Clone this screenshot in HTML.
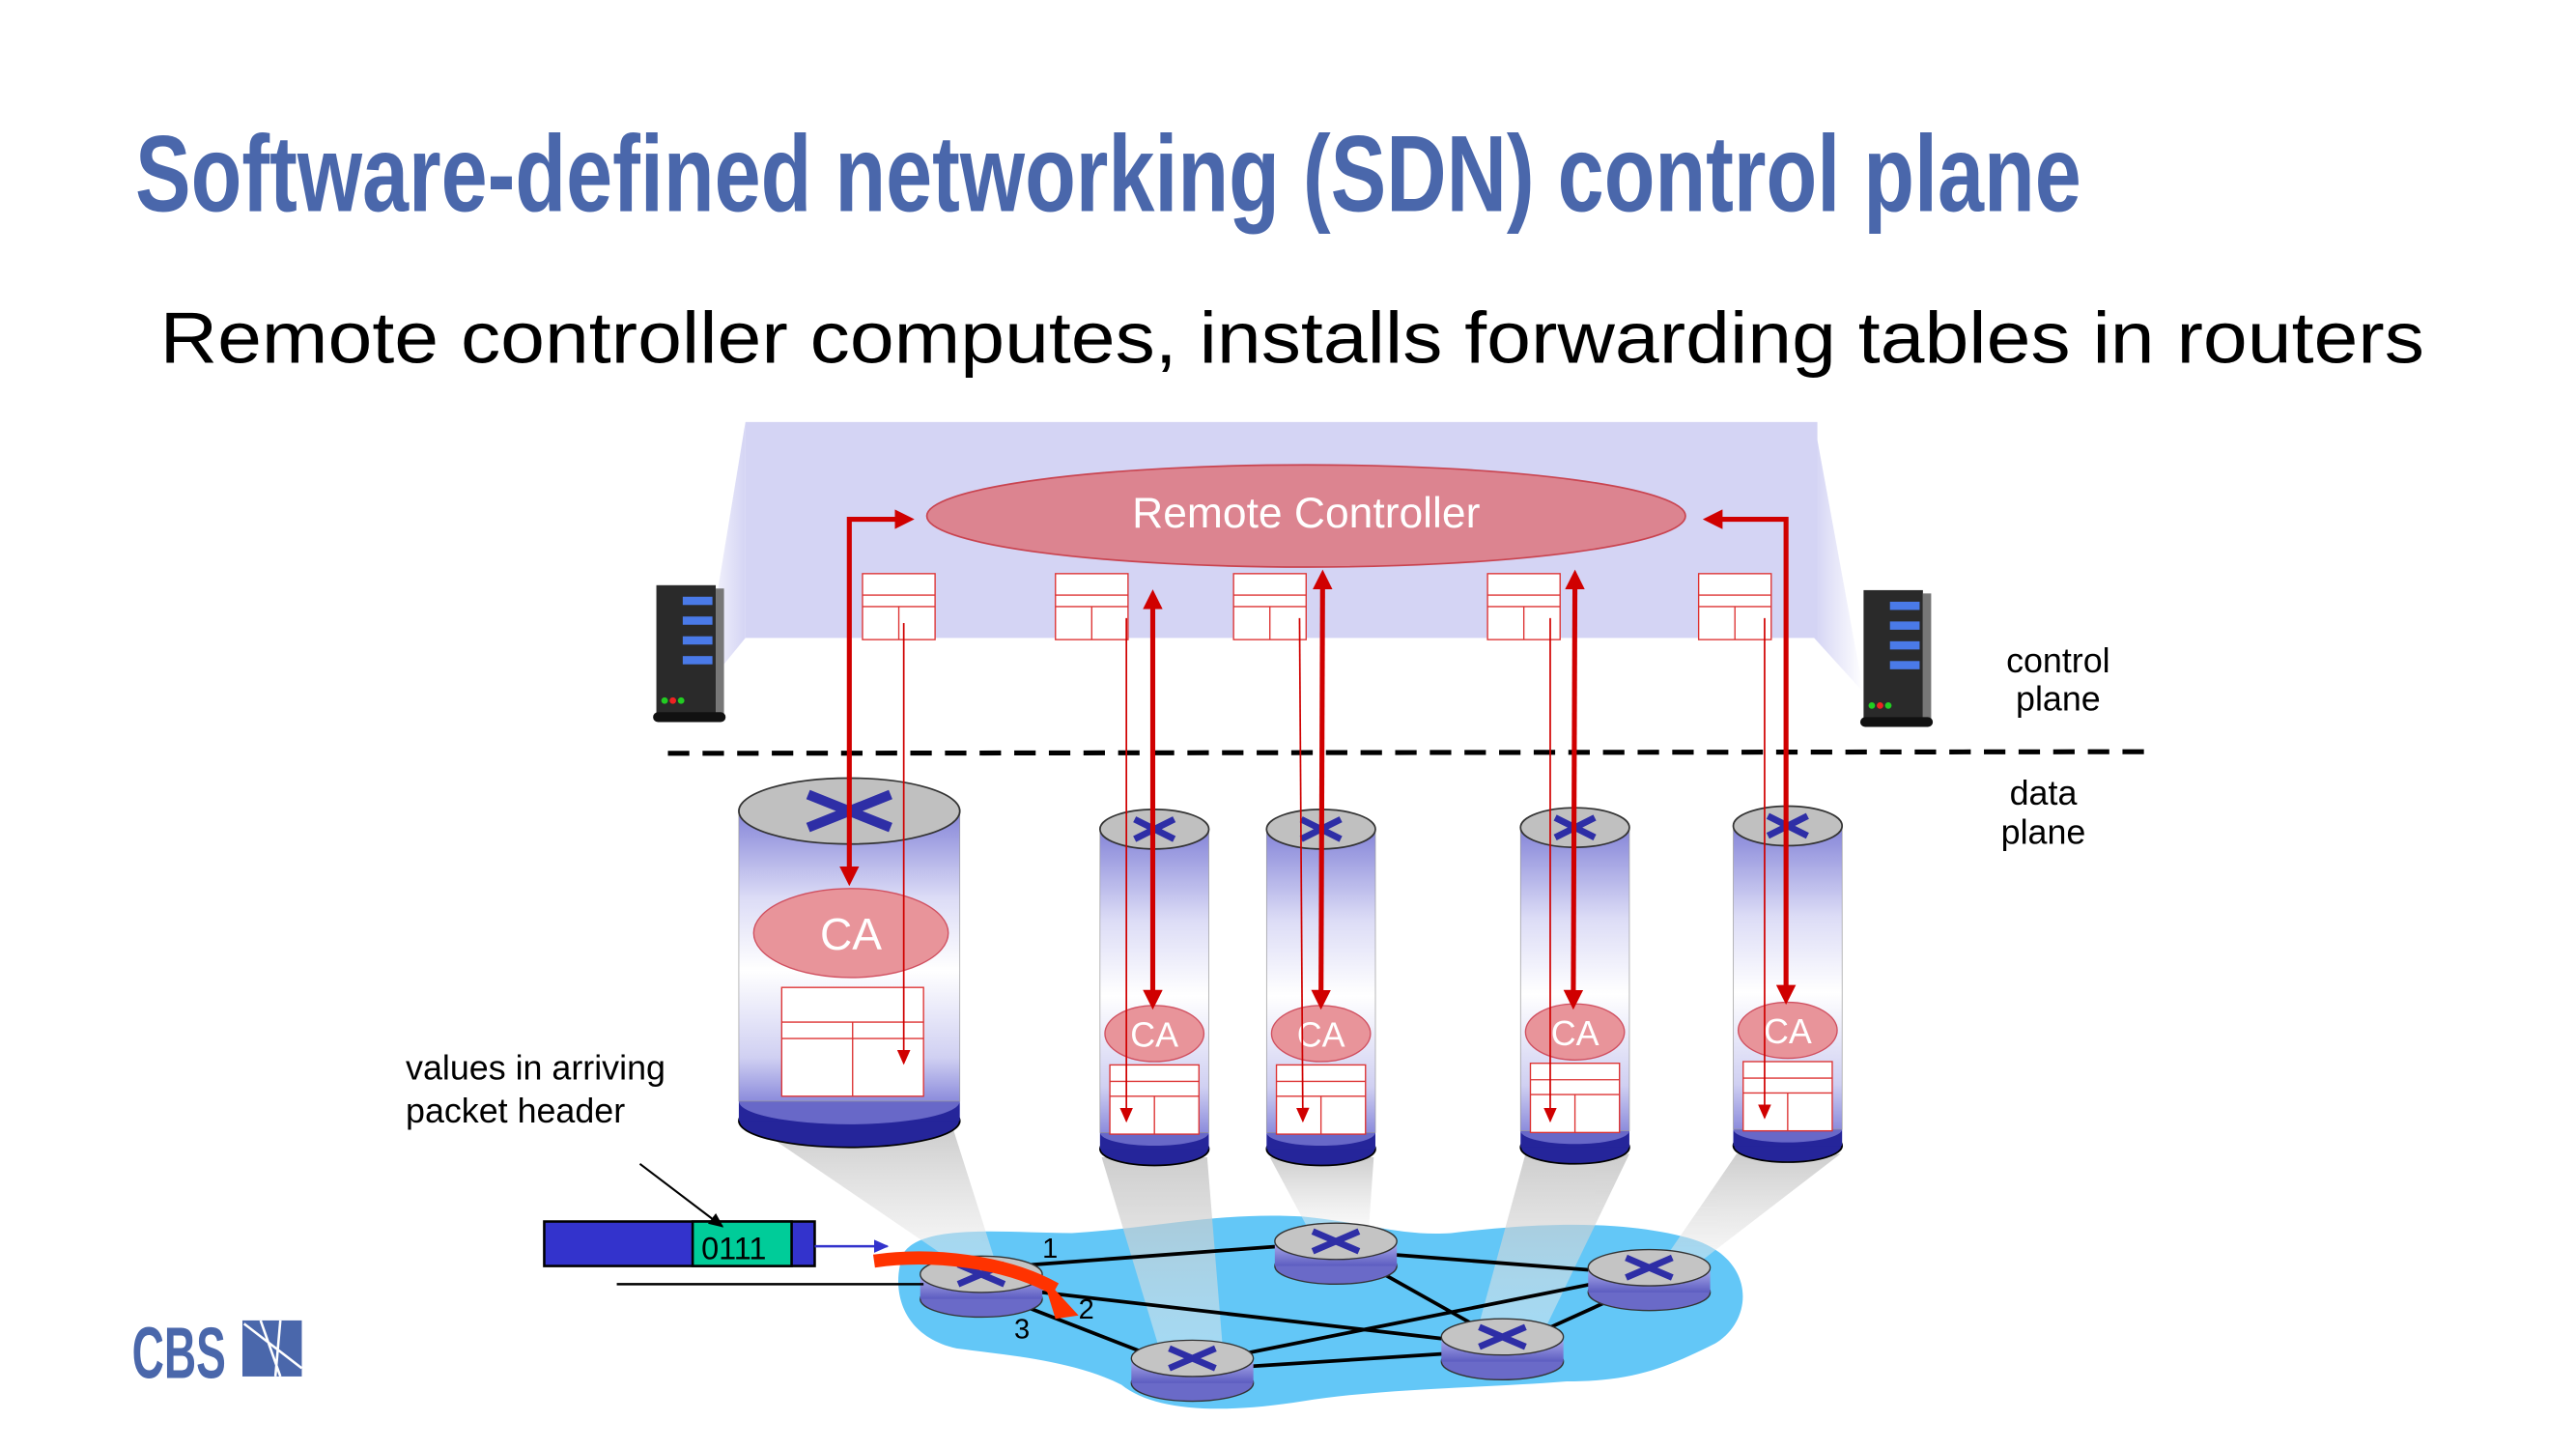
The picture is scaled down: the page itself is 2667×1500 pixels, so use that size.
<!DOCTYPE html>
<html><head><meta charset="utf-8"><style>
html,body{margin:0;padding:0;background:#fff;}
svg{display:block;}
</style></head><body>
<svg width="2667" height="1500" viewBox="0 0 1562 879" preserveAspectRatio="none" xmlns="http://www.w3.org/2000/svg">
<defs>
<linearGradient id="cyl" x1="0" y1="0" x2="0" y2="1">
<stop offset="0" stop-color="#8484d8"/><stop offset="0.3" stop-color="#dcdcf6"/><stop offset="0.55" stop-color="#ffffff"/><stop offset="0.85" stop-color="#d0d0f2"/><stop offset="1" stop-color="#8c8cdc"/>
</linearGradient>
<linearGradient id="beam" x1="0" y1="0" x2="0" y2="1">
<stop offset="0" stop-color="#bdbdbd"/><stop offset="1" stop-color="#f2f2f2" stop-opacity="0.6"/>
</linearGradient>
<linearGradient id="sideL" x1="1" y1="0" x2="0" y2="0">
<stop offset="0" stop-color="#d4d4f4"/><stop offset="1" stop-color="#d4d4f4" stop-opacity="0"/>
</linearGradient>
<linearGradient id="sideR" x1="0" y1="0" x2="1" y2="0">
<stop offset="0" stop-color="#d4d4f4"/><stop offset="1" stop-color="#d4d4f4" stop-opacity="0"/>
</linearGradient>
<linearGradient id="rbody" x1="0" y1="0" x2="0" y2="1">
<stop offset="0" stop-color="#b0b0ee"/><stop offset="1" stop-color="#5c5cc0"/>
</linearGradient>
<marker id="ah" markerWidth="4" markerHeight="4" refX="2.5" refY="2" orient="auto-start-reverse" markerUnits="strokeWidth"><path d="M0,0 L4,2 L0,4 z" fill="#d00000"/></marker>
<marker id="aht" markerWidth="10" markerHeight="10" refX="8" refY="4" orient="auto" markerUnits="userSpaceOnUse"><path d="M0,0 L9,4 L0,8 z" fill="#d00000"/></marker>
<marker id="ahb" markerWidth="10" markerHeight="10" refX="8" refY="4" orient="auto" markerUnits="userSpaceOnUse"><path d="M0,0 L9,4 L0,8 z" fill="#000"/></marker>
<marker id="ahbl" markerWidth="10" markerHeight="10" refX="8" refY="4" orient="auto" markerUnits="userSpaceOnUse"><path d="M0,0 L9,4 L0,8 z" fill="#3333cc"/></marker>
</defs>

<text x="82" y="128" font-family="Liberation Sans, sans-serif" font-weight="bold" font-size="66" fill="#4a67ab" textLength="1180" lengthAdjust="spacingAndGlyphs">Software-defined networking (SDN) control plane</text>
<text x="97" y="220" font-family="Liberation Sans, sans-serif" font-size="44" fill="#000" textLength="1373" lengthAdjust="spacingAndGlyphs">Remote controller computes, installs forwarding tables in routers</text>

<rect x="452" y="256" width="650" height="131" fill="#d4d4f4"/>
<polygon points="452,256 452,387 425,420" fill="url(#sideL)"/>
<polygon points="1100,256 1100,387 1130,420" fill="url(#sideR)"/>

<g>
<rect x="398" y="355" width="36" height="80" fill="#2a2a2a"/>
<rect x="434" y="357" width="5" height="78" fill="#777"/>
<rect x="396" y="432" width="44" height="6" rx="3" fill="#111"/>
<rect x="414" y="362" width="18" height="5" fill="#4a7ae8"/><rect x="414" y="374" width="18" height="5" fill="#4a7ae8"/><rect x="414" y="386" width="18" height="5" fill="#4a7ae8"/><rect x="414" y="398" width="18" height="5" fill="#4a7ae8"/>
<circle cx="403" cy="425" r="2" fill="#2c2"/><circle cx="408" cy="425" r="2" fill="#e22"/><circle cx="413" cy="425" r="2" fill="#2c2"/>
</g>
<g transform="translate(732,3)">
<rect x="398" y="355" width="36" height="80" fill="#2a2a2a"/>
<rect x="434" y="357" width="5" height="78" fill="#777"/>
<rect x="396" y="432" width="44" height="6" rx="3" fill="#111"/>
<rect x="414" y="362" width="18" height="5" fill="#4a7ae8"/><rect x="414" y="374" width="18" height="5" fill="#4a7ae8"/><rect x="414" y="386" width="18" height="5" fill="#4a7ae8"/><rect x="414" y="398" width="18" height="5" fill="#4a7ae8"/>
<circle cx="403" cy="425" r="2" fill="#2c2"/><circle cx="408" cy="425" r="2" fill="#e22"/><circle cx="413" cy="425" r="2" fill="#2c2"/>
</g>

<ellipse cx="792" cy="313" rx="230" ry="31" fill="#dc8490" stroke="#c94450" stroke-width="1"/>
<text x="792" y="320" text-anchor="middle" font-family="Liberation Sans, sans-serif" font-size="26" fill="#fff">Remote Controller</text>

<g fill="#fff" stroke="#d33" stroke-width="0.8">
<rect x="523" y="348" width="44" height="40"/><line x1="523" y1="361" x2="567" y2="361"/><line x1="523" y1="368" x2="567" y2="368"/><line x1="545" y1="368" x2="545" y2="388"/>
<rect x="640" y="348" width="44" height="40"/><line x1="640" y1="361" x2="684" y2="361"/><line x1="640" y1="368" x2="684" y2="368"/><line x1="662" y1="368" x2="662" y2="388"/>
<rect x="748" y="348" width="44" height="40"/><line x1="748" y1="361" x2="792" y2="361"/><line x1="748" y1="368" x2="792" y2="368"/><line x1="770" y1="368" x2="770" y2="388"/>
<rect x="902" y="348" width="44" height="40"/><line x1="902" y1="361" x2="946" y2="361"/><line x1="902" y1="368" x2="946" y2="368"/><line x1="924" y1="368" x2="924" y2="388"/>
<rect x="1030" y="348" width="44" height="40"/><line x1="1030" y1="361" x2="1074" y2="361"/><line x1="1030" y1="368" x2="1074" y2="368"/><line x1="1052" y1="368" x2="1052" y2="388"/>
</g>

<g font-family="Liberation Sans, sans-serif" font-size="21" fill="#000" text-anchor="middle">
<text x="1248" y="408">control</text><text x="1248" y="431">plane</text>
<text x="1239" y="488">data</text><text x="1239" y="512">plane</text>
</g>
<line x1="405" y1="457" x2="1305" y2="456" stroke="#000" stroke-width="3" stroke-dasharray="13,8"/>

<path d="M548,760 C560,742 610,748 650,748 C700,745 740,735 790,738 C830,742 850,750 880,748 C930,742 980,740 1020,750 C1065,760 1065,800 1040,815 C1010,830 990,838 950,838 C900,842 840,842 790,850 C740,858 700,856 680,840 C650,825 610,822 580,818 C545,810 540,780 548,760 Z" fill="#63c7f7"/>

<g fill="url(#beam)" opacity="0.75">
<polygon points="460,685 578,685 605,770 570,760"/>
<polygon points="668,702 732,702 742,825 705,825"/>
<polygon points="770,702 833,702 830,745 793,745"/>
<polygon points="925,700 988,700 935,810 895,810"/>
<polygon points="1053,700 1116,700 1025,770 1005,770"/>
</g>

<g stroke="#000" stroke-width="2.2">
<line x1="615" y1="768" x2="790" y2="755"/>
<line x1="615" y1="782" x2="900" y2="815"/>
<line x1="610" y1="788" x2="705" y2="825"/>
<line x1="740" y1="830" x2="895" y2="820"/>
<line x1="735" y1="825" x2="985" y2="775"/>
<line x1="830" y1="760" x2="985" y2="772"/>
<line x1="825" y1="765" x2="905" y2="810"/>
<line x1="925" y1="812" x2="1000" y2="778"/>
</g>

<g>
<g transform="translate(595,775)"><ellipse cx="0" cy="13" rx="37" ry="11" fill="#6a6ac8" stroke="#333" stroke-width="0.8"/><rect x="-37" y="-2" width="74" height="15" fill="url(#rbody)"/><ellipse cx="0" cy="-2" rx="37" ry="11" fill="#c4c4c4" stroke="#333" stroke-width="0.8"/><path d="M-14,-8 L14,4 M14,-8 L-14,4" stroke="#2e2ea6" stroke-width="4"/></g>
<g transform="translate(810,755)"><ellipse cx="0" cy="13" rx="37" ry="11" fill="#6a6ac8" stroke="#333" stroke-width="0.8"/><rect x="-37" y="-2" width="74" height="15" fill="url(#rbody)"/><ellipse cx="0" cy="-2" rx="37" ry="11" fill="#c4c4c4" stroke="#333" stroke-width="0.8"/><path d="M-14,-8 L14,4 M14,-8 L-14,4" stroke="#2e2ea6" stroke-width="4"/></g>
<g transform="translate(723,826)"><ellipse cx="0" cy="13" rx="37" ry="11" fill="#6a6ac8" stroke="#333" stroke-width="0.8"/><rect x="-37" y="-2" width="74" height="15" fill="url(#rbody)"/><ellipse cx="0" cy="-2" rx="37" ry="11" fill="#c4c4c4" stroke="#333" stroke-width="0.8"/><path d="M-14,-8 L14,4 M14,-8 L-14,4" stroke="#2e2ea6" stroke-width="4"/></g>
<g transform="translate(911,813)"><ellipse cx="0" cy="13" rx="37" ry="11" fill="#6a6ac8" stroke="#333" stroke-width="0.8"/><rect x="-37" y="-2" width="74" height="15" fill="url(#rbody)"/><ellipse cx="0" cy="-2" rx="37" ry="11" fill="#c4c4c4" stroke="#333" stroke-width="0.8"/><path d="M-14,-8 L14,4 M14,-8 L-14,4" stroke="#2e2ea6" stroke-width="4"/></g>
<g transform="translate(1000,771)"><ellipse cx="0" cy="13" rx="37" ry="11" fill="#6a6ac8" stroke="#333" stroke-width="0.8"/><rect x="-37" y="-2" width="74" height="15" fill="url(#rbody)"/><ellipse cx="0" cy="-2" rx="37" ry="11" fill="#c4c4c4" stroke="#333" stroke-width="0.8"/><path d="M-14,-8 L14,4 M14,-8 L-14,4" stroke="#2e2ea6" stroke-width="4"/></g>
</g>

<line x1="374" y1="779" x2="560" y2="779" stroke="#000" stroke-width="1.5"/>
<rect x="330" y="741" width="164" height="27" fill="#3333cc" stroke="#000" stroke-width="1.5"/>
<rect x="420" y="741" width="60" height="27" fill="#00cc99" stroke="#000" stroke-width="1.5"/>
<text x="445" y="764" text-anchor="middle" font-family="Liberation Sans, sans-serif" font-size="19" fill="#000">0111</text>
<line x1="494" y1="756" x2="538" y2="756" stroke="#3333cc" stroke-width="1.5" marker-end="url(#ahbl)"/>
<path d="M530,765 C565,760 610,765 640,782" stroke="#ff3300" stroke-width="8" fill="none"/>
<polygon points="632,774 654,798 640,800" fill="#ff3300"/>
<g font-family="Liberation Sans, sans-serif" font-size="17" fill="#000">
<text x="632" y="763">1</text><text x="654" y="800">2</text><text x="615" y="812">3</text>
</g>
<line x1="388" y1="706" x2="438" y2="744" stroke="#000" stroke-width="1.2" marker-end="url(#ahb)"/>
<g font-family="Liberation Sans, sans-serif" font-size="21" fill="#000">
<text x="246" y="655">values in arriving</text><text x="246" y="681">packet header</text>
</g>

<g>
<ellipse cx="515" cy="680" rx="67" ry="16" fill="#25259a" stroke="#000" stroke-width="1"/>
<rect x="448" y="668" width="134" height="12" fill="#25259a"/>
<ellipse cx="515" cy="668" rx="67" ry="14" fill="#6868c8"/>
<rect x="448" y="492" width="134" height="176" fill="url(#cyl)" stroke="#999" stroke-width="0.4"/>
<ellipse cx="515" cy="492" rx="67" ry="20" fill="#c0c0c0" stroke="#333" stroke-width="1"/>
<path d="M490,482 L540,502 M540,482 L490,502" stroke="#2e2ea6" stroke-width="6"/>
<ellipse cx="516" cy="566" rx="59" ry="27" fill="#e8949a" stroke="#d05060" stroke-width="0.8"/>
<text x="516" y="576" text-anchor="middle" font-family="Liberation Sans, sans-serif" font-size="27" fill="#fff">CA</text>
<g fill="#fff" stroke="#d33" stroke-width="0.8"><rect x="474" y="599" width="86" height="66"/><line x1="474" y1="620" x2="560" y2="620"/><line x1="474" y1="630" x2="560" y2="630"/><line x1="517" y1="620" x2="517" y2="665"/></g>
</g>

<g>
<g transform="translate(700,0)"><ellipse cx="0" cy="697" rx="33" ry="10" fill="#25259a" stroke="#000"/><rect x="-33" y="687" width="66" height="10" fill="#25259a"/><ellipse cx="0" cy="687" rx="33" ry="8" fill="#6868c8"/><rect x="-33" y="503" width="66" height="184" fill="url(#cyl)" stroke="#999" stroke-width="0.4"/><ellipse cx="0" cy="503" rx="33" ry="12" fill="#c0c0c0" stroke="#333"/><path d="M-12,497 L12,509 M12,497 L-12,509" stroke="#2e2ea6" stroke-width="4"/><ellipse cx="0" cy="627" rx="30" ry="17" fill="#e8949a" stroke="#d05060" stroke-width="0.8"/><text x="0" y="635" text-anchor="middle" font-family="Liberation Sans, sans-serif" font-size="21" fill="#fff">CA</text><g fill="#fff" stroke="#d33" stroke-width="0.8"><rect x="-27" y="646" width="54" height="42"/><line x1="-27" y1="656" x2="27" y2="656"/><line x1="-27" y1="665" x2="27" y2="665"/><line x1="0" y1="665" x2="0" y2="688"/></g></g>
<g transform="translate(801,0)"><ellipse cx="0" cy="697" rx="33" ry="10" fill="#25259a" stroke="#000"/><rect x="-33" y="687" width="66" height="10" fill="#25259a"/><ellipse cx="0" cy="687" rx="33" ry="8" fill="#6868c8"/><rect x="-33" y="503" width="66" height="184" fill="url(#cyl)" stroke="#999" stroke-width="0.4"/><ellipse cx="0" cy="503" rx="33" ry="12" fill="#c0c0c0" stroke="#333"/><path d="M-12,497 L12,509 M12,497 L-12,509" stroke="#2e2ea6" stroke-width="4"/><ellipse cx="0" cy="627" rx="30" ry="17" fill="#e8949a" stroke="#d05060" stroke-width="0.8"/><text x="0" y="635" text-anchor="middle" font-family="Liberation Sans, sans-serif" font-size="21" fill="#fff">CA</text><g fill="#fff" stroke="#d33" stroke-width="0.8"><rect x="-27" y="646" width="54" height="42"/><line x1="-27" y1="656" x2="27" y2="656"/><line x1="-27" y1="665" x2="27" y2="665"/><line x1="0" y1="665" x2="0" y2="688"/></g></g>
<g transform="translate(955,-1)"><ellipse cx="0" cy="697" rx="33" ry="10" fill="#25259a" stroke="#000"/><rect x="-33" y="687" width="66" height="10" fill="#25259a"/><ellipse cx="0" cy="687" rx="33" ry="8" fill="#6868c8"/><rect x="-33" y="503" width="66" height="184" fill="url(#cyl)" stroke="#999" stroke-width="0.4"/><ellipse cx="0" cy="503" rx="33" ry="12" fill="#c0c0c0" stroke="#333"/><path d="M-12,497 L12,509 M12,497 L-12,509" stroke="#2e2ea6" stroke-width="4"/><ellipse cx="0" cy="627" rx="30" ry="17" fill="#e8949a" stroke="#d05060" stroke-width="0.8"/><text x="0" y="635" text-anchor="middle" font-family="Liberation Sans, sans-serif" font-size="21" fill="#fff">CA</text><g fill="#fff" stroke="#d33" stroke-width="0.8"><rect x="-27" y="646" width="54" height="42"/><line x1="-27" y1="656" x2="27" y2="656"/><line x1="-27" y1="665" x2="27" y2="665"/><line x1="0" y1="665" x2="0" y2="688"/></g></g>
<g transform="translate(1084,-2)"><ellipse cx="0" cy="697" rx="33" ry="10" fill="#25259a" stroke="#000"/><rect x="-33" y="687" width="66" height="10" fill="#25259a"/><ellipse cx="0" cy="687" rx="33" ry="8" fill="#6868c8"/><rect x="-33" y="503" width="66" height="184" fill="url(#cyl)" stroke="#999" stroke-width="0.4"/><ellipse cx="0" cy="503" rx="33" ry="12" fill="#c0c0c0" stroke="#333"/><path d="M-12,497 L12,509 M12,497 L-12,509" stroke="#2e2ea6" stroke-width="4"/><ellipse cx="0" cy="627" rx="30" ry="17" fill="#e8949a" stroke="#d05060" stroke-width="0.8"/><text x="0" y="635" text-anchor="middle" font-family="Liberation Sans, sans-serif" font-size="21" fill="#fff">CA</text><g fill="#fff" stroke="#d33" stroke-width="0.8"><rect x="-27" y="646" width="54" height="42"/><line x1="-27" y1="656" x2="27" y2="656"/><line x1="-27" y1="665" x2="27" y2="665"/><line x1="0" y1="665" x2="0" y2="688"/></g></g>
</g>

<g stroke="#d00000" stroke-width="1" fill="none">
<line x1="548" y1="378" x2="548" y2="645" marker-end="url(#aht)"/>
<line x1="683" y1="375" x2="683" y2="680" marker-end="url(#aht)"/>
<line x1="788" y1="375" x2="790" y2="680" marker-end="url(#aht)"/>
<line x1="940" y1="375" x2="940" y2="680" marker-end="url(#aht)"/>
<line x1="1070" y1="375" x2="1070" y2="678" marker-end="url(#aht)"/>
</g>
<g stroke="#d00000" stroke-width="3" fill="none">
<polyline points="550,315 515,315 515,533" marker-start="url(#ah)" marker-end="url(#ah)"/>
<line x1="699" y1="362" x2="699" y2="608" marker-start="url(#ah)" marker-end="url(#ah)"/>
<line x1="802" y1="350" x2="801" y2="608" marker-start="url(#ah)" marker-end="url(#ah)"/>
<line x1="955" y1="350" x2="954" y2="608" marker-start="url(#ah)" marker-end="url(#ah)"/>
<polyline points="1037,315 1083,315 1083,605" marker-start="url(#ah)" marker-end="url(#ah)"/>
</g>

<text x="80" y="836" font-family="Liberation Sans, sans-serif" font-weight="bold" font-size="44" fill="#4a67ab" textLength="57" lengthAdjust="spacingAndGlyphs">CBS</text>
<rect x="147" y="801" width="36" height="34" fill="#4a67ab"/>
<path d="M148,803 L183,830 M158,801 L170,835 M170,801 L167,835" stroke="#fff" stroke-width="1.5"/>
</svg>
</body></html>
